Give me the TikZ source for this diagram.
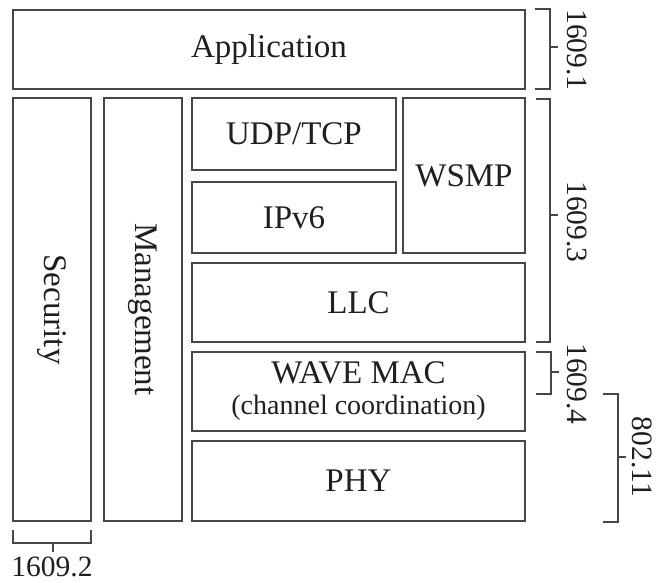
\documentclass[tikz,border=0pt]{standalone}
\usepackage{fontspec}
\setmainfont{Liberation Serif}
\begin{document}
\begin{tikzpicture}[x=1pt,y=-1pt,
  layer/.style={draw=black!72,line width=1.2pt,inner sep=0pt,font=\fontsize{33}{38}\selectfont,text=black!88},
  vtext/.style={rotate=-90,font=\fontsize{33}{38}\selectfont,text=black!88},
  brk/.style={draw=black!72,line width=1.2pt},
  lbl/.style={font=\fontsize{29.5}{34}\selectfont,text=black!88,inner sep=0pt}]
\useasboundingbox (0,0) rectangle (657,583);
% boxes
\node[layer,minimum width=512pt,minimum height=79pt] (app) at (269,49.5) {Application};
\node[layer,minimum width=78pt,minimum height=423pt] (sec) at (52,309.5) {};
\node[layer,minimum width=78pt,minimum height=423pt] (mgmt) at (143,309.5) {};
\node[vtext] (sect) at (sec.center) {Security};
\node[vtext] (mgmtt) at (mgmt.center) {Management};
\node[layer,minimum width=204pt,minimum height=72pt] (udp) at (294,134) {UDP/TCP};
\node[layer,minimum width=204pt,minimum height=71pt] (ipv6) at (294,217.5) {IPv6};
\node[layer,minimum width=122pt,minimum height=155pt] (wsmp) at (464,175.5) {WSMP};
\node[layer,minimum width=333pt,minimum height=79pt] (llc) at (358.5,302.5) {LLC};
\node[layer,minimum width=333pt,minimum height=79pt,align=center] (mac) at (358.5,391.5) {WAVE MAC\\[-7pt]{\fontsize{28}{32}\selectfont(channel coordination)}};
\node[layer,minimum width=333pt,minimum height=80pt] (phy) at (358.5,481) {PHY};
% brackets
\draw[brk] (535,9) -- (550,9) -- (550,89) -- (535,89);
\draw[brk] (550,47) -- (558,47);
\node[lbl,rotate=-90] (l1) at (577,50) {1609.1};
\draw[brk] (536,99) -- (550,99) -- (550,342) -- (536,342);
\draw[brk] (550,215) -- (558,215);
\node[lbl,rotate=-90] (l3) at (577,222) {1609.3};
\draw[brk] (536,352) -- (551,352) -- (551,394) -- (536,394);
\draw[brk] (551,372) -- (559,372);
\node[lbl,rotate=-90] (l4) at (577,384) {1609.4};
\draw[brk] (603,394) -- (618,394) -- (618,522) -- (603,522);
\draw[brk] (618,457) -- (626,457);
\node[lbl,rotate=-90] (l80) at (642,457) {802.11};
\draw[brk] (13,530) -- (13,543) -- (91,543) -- (91,530);
\draw[brk] (53,543) -- (53,552);
\node[lbl] (l2) at (52,567) {1609.2};
\end{tikzpicture}
\end{document}
